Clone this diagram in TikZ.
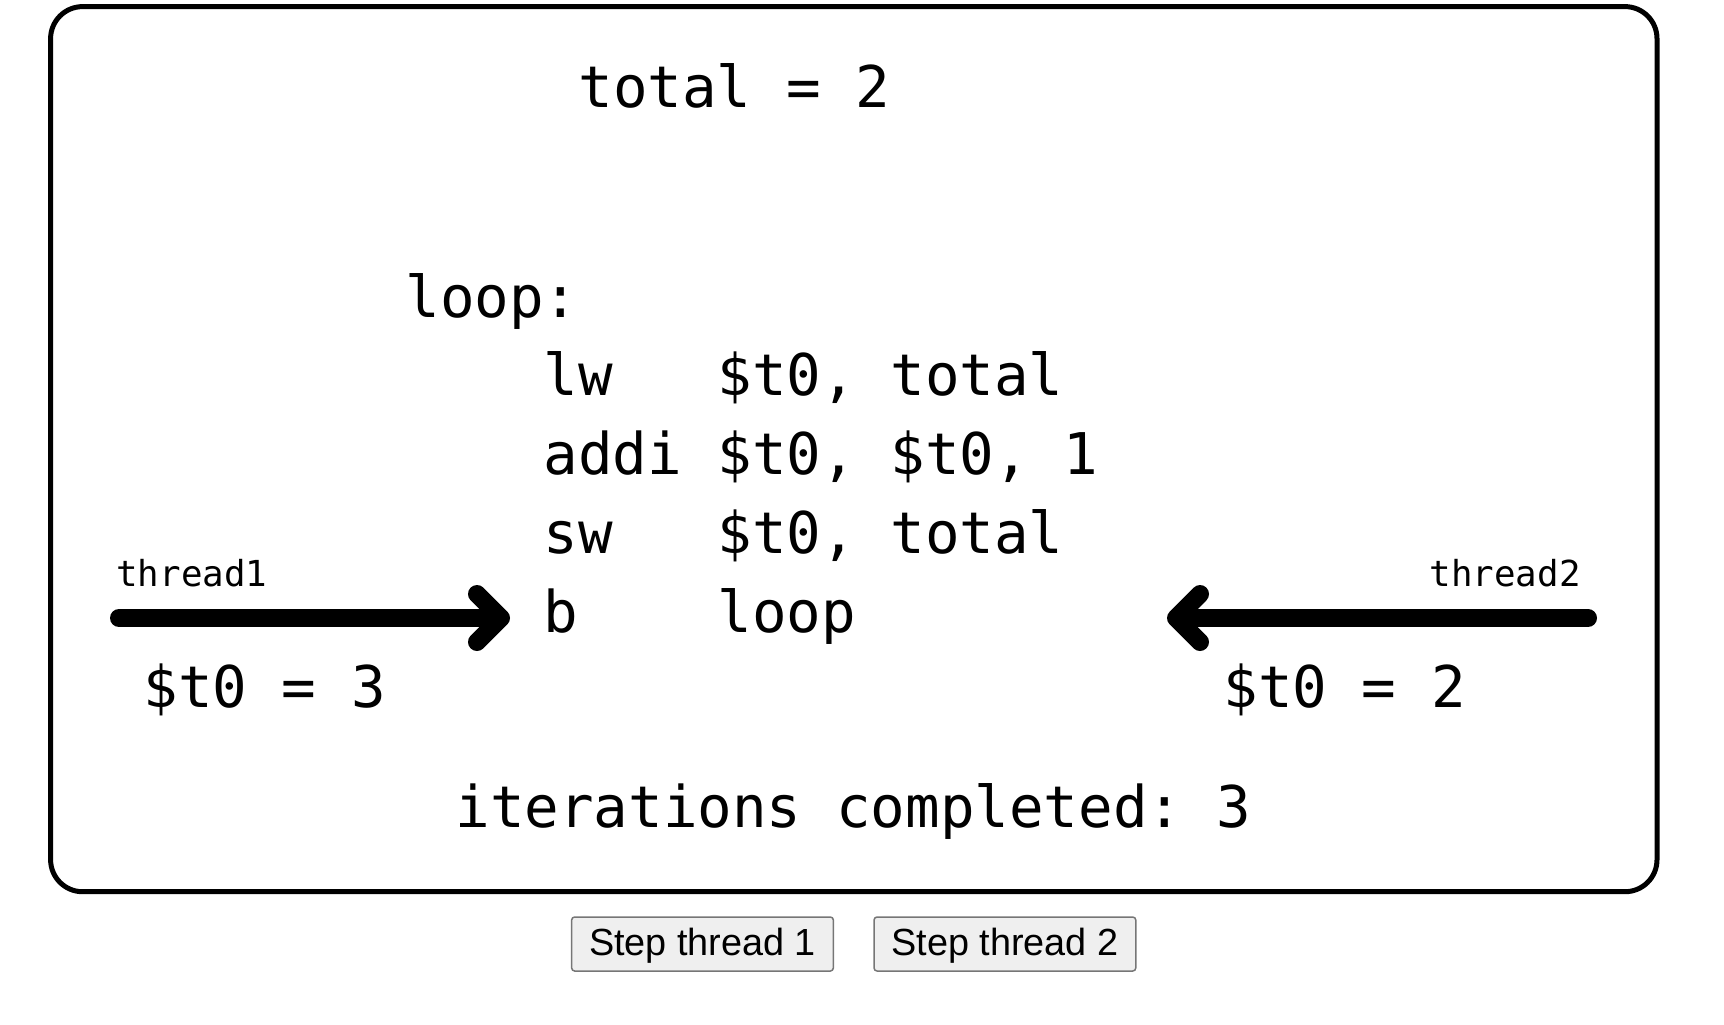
\documentclass[tikz,border=0pt]{standalone}
\usepackage{fontspec}
\setmainfont{Liberation Sans}
\setmonofont{DejaVu Sans Mono}
\usetikzlibrary{arrows.meta}

\definecolor{ButtonFill}{HTML}{EFEFEF}
\definecolor{ButtonBorder}{HTML}{767676}

\begin{document}
\begin{tikzpicture}[x=0.5pt, y=-0.5pt]
\useasboundingbox (0,0) rectangle (1724,1024);

\coordinate (T1_tail) at (119, 618);
\coordinate (T1_head) at (510, 618);
\coordinate (T2_tail) at (1588, 618);
\coordinate (T2_head) at (1167, 618);


\tikzset{FrameStyle/.style = {line width=2.5pt, rounded corners=16pt} }

\draw[FrameStyle] (50.6, 6.6) rectangle (1657, 891.7);


\tikzset{CodeStyle/.style = {
 anchor = base west,
 inner sep = 0pt,
 font = \ttfamily\fontsize{28.75pt}{34pt}\selectfont} }
\tikzset{NameStyle/.style = {
 anchor = base west,
 inner sep = 0pt,
 font = \ttfamily\fontsize{17.9pt}{21pt}\selectfont} }

\node[CodeStyle] (Total) at (578, 107) {total = 2};

\node[CodeStyle] (Loop) at (405, 317) {loop:};
\node[CodeStyle] (Op1) at (543, 395) {lw};
\node[CodeStyle] (Arg1) at (717, 395) {\$t0, total};
\node[CodeStyle] (Op2) at (543, 474) {addi};
\node[CodeStyle] (Arg2) at (717, 474) {\$t0, \$t0, 1};
\node[CodeStyle] (Op3) at (543, 553) {sw};
\node[CodeStyle] (Arg3) at (717, 553) {\$t0, total};
\node[CodeStyle] (Op4) at (543, 632) {b};
\node[CodeStyle] (Arg4) at (717, 632) {loop};

\node[NameStyle] (Name1) at (116, 586) {thread1};
\node[NameStyle, anchor=base east] (Name2) at (1581, 586) {thread2};
\node[CodeStyle] (Reg1) at (143, 707) {\$t0 = 3};
\node[CodeStyle] (Reg2) at (1223, 707) {\$t0 = 2};

\node[CodeStyle] (Iter) at (455, 827) {iterations completed: 3};


\tikzset{ArrowStyle/.style = {
 line width = 9pt,
 line cap = round,
 -{Straight Barb[length=12pt, width=24pt, round]}} }

\draw[ArrowStyle] (T1_tail) -- (T1_head);
\draw[ArrowStyle] (T2_tail) -- (T2_head);


\tikzset{ButtonStyle/.style = {
 draw = ButtonBorder,
 fill = ButtonFill,
 line width = 0.75pt,
 rounded corners = 1.5pt,
 minimum width = 130.85pt,
 minimum height = 27pt,
 inner sep = 0pt,
 text height = 14pt,
 text depth = 3pt,
 font = \fontsize{18.9pt}{23pt}\selectfont} }

\node[ButtonStyle] (Step1) at (702.5, 944) {Step thread 1};
\node[ButtonStyle] (Step2) at (1004.9, 944) {Step thread 2};

\end{tikzpicture}
\end{document}
